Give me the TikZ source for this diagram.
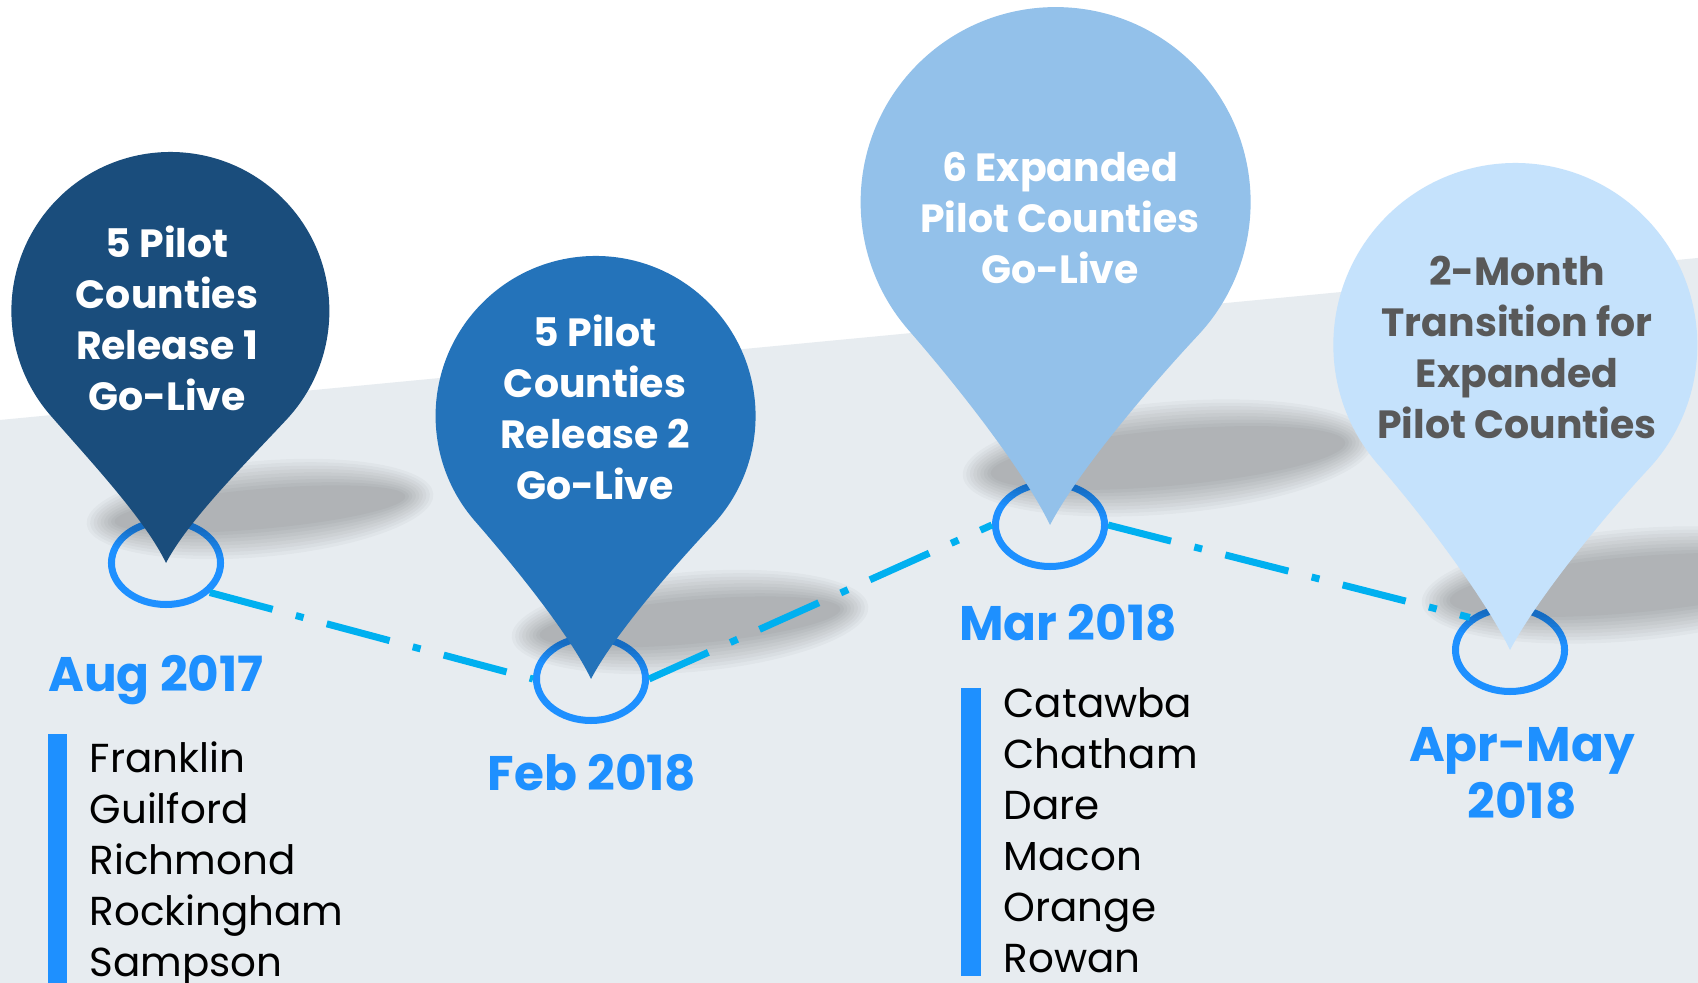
\documentclass[tikz,border=0pt]{standalone}
\usepackage{fontspec}
\setmainfont{Poppins}
\usetikzlibrary{shapes.geometric}

\definecolor{ground}{HTML}{E7ECF0}
\definecolor{ringblue}{HTML}{1E90FF}
\definecolor{trailblue}{HTML}{00B0F0}
\definecolor{pinnavy}{HTML}{1A4D7C}
\definecolor{pinblue}{HTML}{2473BA}
\definecolor{pinsky}{HTML}{93C1EA}
\definecolor{pinpale}{HTML}{C5E2FC}
\definecolor{greytext}{HTML}{595959}

\tikzset{
  ring/.style={ellipse, draw=ringblue, line width=0.07cm, minimum width=1.09cm,
    minimum height=0.83cm, inner sep=0pt},
  trail/.style={draw=trailblue, line width=0.07cm,
    dash pattern=on 0.65cm off 0.24cm on 0.08cm off 0.24cm},
  pintext/.style={font=\fontsize{11.2}{14.5}\selectfont\bfseries, align=center, inner sep=0pt},
  datetext/.style={text=ringblue, font=\fontsize{13.8}{16.2}\selectfont\bfseries,
    align=center, inner sep=0pt},
  listtext/.style={font=\fontsize{11.5}{14.5}\selectfont, align=left, inner sep=0pt,
    anchor=north west},
}

\begin{document}
\begin{tikzpicture}[x=0.01cm, y=0.01cm]
    % Canvas and grey ground
    \useasboundingbox (0,0) rectangle (1698,983);
    \clip (0,0) rectangle (1698,983);
    \fill[white] (0,0) rectangle (1698,983);
    \fill[ground] (0,0) -- (0,563) -- (1698,725) -- (1698,0) -- cycle;

    % Ring markers on the time line
    \node[ring] (r1) at (166,420) {};
    \node[ring] (r2) at (591,304) {};
    \node[ring] (r3) at (1050,458) {};
    \node[ring] (r4) at (1510,333) {};

    % Soft shadows of the pins
    \foreach \sx/\sy/\sa/\sb in {260/474/160/34, 690/361/165/36, 1168/525/192/42, 1630/398/195/42}
      \foreach \k in {0,...,8}
        \fill[black, opacity=0.026, rotate around={5:(\sx,\sy)}]
          (\sx,\sy) ellipse [x radius=\sa+14-3.5*\k, y radius=\sb+14-3.5*\k];

    % Dash-dot trail between the rings
    \draw[trail] (r1.-34) -- (r2.west);
    \draw[trail] (r2.east) -- (r3.west);
    \draw[trail] (r3.east) -- (r4.141);

    % Pins, tip on the ring centre
    \foreach \ring/\rad/\d/\col in {r1/159/1.585/pinnavy, r2/160/1.644/pinblue,
                                    r3/195/1.656/pinsky, r4/182/1.676/pinpale}
      \fill[\col, shift={(\ring.center)}, rotate=-1]
        (0,0) .. controls (0.134*\rad,0.268*\rad) and (0.475*\rad,\d*\rad-0.966*\rad)
        .. (0.743*\rad,\d*\rad-0.669*\rad)
        arc[start angle=-42, end angle=222, radius=\rad]
        .. controls (-0.475*\rad,\d*\rad-0.966*\rad) and (-0.134*\rad,0.268*\rad) .. cycle;

    % Pin captions
    \node[pintext, text=white] (t1) at (167,665) {5 Pilot\\Counties\\Release 1\\Go-Live};
    \node[pintext, text=white] (t2) at (595,576) {5 Pilot\\Counties\\Release 2\\Go-Live};
    \node[pintext, text=white] (t3) at (1060,765) {6 Expanded\\Pilot Counties\\Go-Live};
    \node[pintext, text=greytext] (t4) at (1517,636) {2-Month\\Transition for\\Expanded\\Pilot Counties};

    % Dates
    \node[datetext, anchor=base] (d1) at (156,291) {Aug 2017};
    \node[datetext, anchor=base] (d2) at (592,192) {Feb 2018};
    \node[datetext, anchor=base] (d3) at (1068,342) {Mar 2018};
    \node[datetext] (d4) at (1522,210) {Apr-May\\2018};

    % County lists with their bars
    \fill[ringblue] (48,0) rectangle (67,249);
    \node[listtext] (l1) at (89,242) {Franklin\\Guilford\\Richmond\\Rockingham\\Sampson};
    \fill[ringblue] (961,7) rectangle (981,295);
    \node[listtext] (l3) at (1003,296) {Catawba\\Chatham\\Dare\\Macon\\Orange\\Rowan};
\end{tikzpicture}
\end{document}
